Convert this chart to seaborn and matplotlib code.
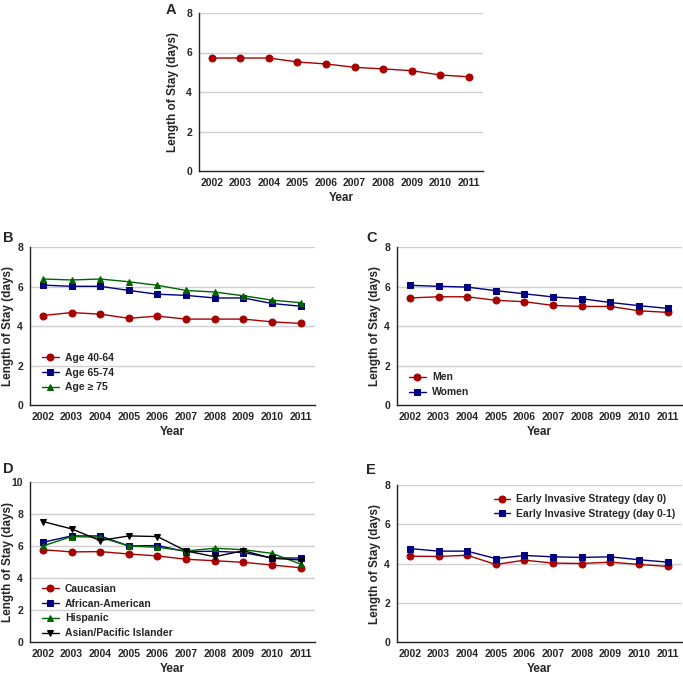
import matplotlib
matplotlib.use("Agg")
import matplotlib.pyplot as plt
import seaborn as sns
import pandas as pd

sns.set_style("white")
plt.rcParams['font.family'] = ['Liberation Sans', 'DejaVu Sans']
plt.rcParams['font.weight'] = 'bold'

years = [2002, 2003, 2004, 2005, 2006, 2007, 2008, 2009, 2010, 2011]

# Panel A: overall
overall = [5.72, 5.72, 5.72, 5.52, 5.42, 5.25, 5.17, 5.08, 4.86, 4.77]

# Panel B: age groups
age_40_64 = [4.53, 4.68, 4.60, 4.39, 4.50, 4.35, 4.35, 4.35, 4.21, 4.13]
age_65_74 = [6.07, 6.01, 6.01, 5.80, 5.61, 5.55, 5.42, 5.42, 5.14, 5.00]
age_75 = [6.38, 6.33, 6.38, 6.24, 6.06, 5.80, 5.72, 5.53, 5.31, 5.18]

# Panel C: sex
men = [5.42, 5.48, 5.48, 5.30, 5.23, 5.04, 4.99, 4.99, 4.77, 4.69]
women = [6.06, 6.01, 5.97, 5.79, 5.63, 5.47, 5.38, 5.19, 5.03, 4.89]

# Panel D: race
caucasian = [5.77, 5.63, 5.65, 5.50, 5.38, 5.17, 5.08, 4.98, 4.81, 4.64]
african_american = [6.23, 6.63, 6.63, 6.00, 6.03, 5.65, 5.67, 5.59, 5.25, 5.25]
hispanic = [6.00, 6.59, 6.55, 6.00, 5.92, 5.69, 5.86, 5.77, 5.54, 4.87]
asian_pi = [7.53, 7.07, 6.34, 6.63, 6.59, 5.69, 5.33, 5.71, 5.23, 5.13]

# Panel E: early invasive strategy
eis_day0 = [4.37, 4.36, 4.42, 3.95, 4.17, 4.02, 4.00, 4.07, 3.95, 3.85]
eis_day01 = [4.76, 4.63, 4.63, 4.25, 4.41, 4.34, 4.31, 4.34, 4.19, 4.07]

RED = "#A80000"
NAVY = "#000080"
GREEN = "#006400"
BLACK = "#000000"

W, H = 683, 674
fig = plt.figure(figsize=(W / 100, H / 100), dpi=100)


def make_ax(x0, x1, ytop, ybot):
    return fig.add_axes([x0 / W, 1 - ybot / H, (x1 - x0) / W, (ybot - ytop) / H])


def style_ax(ax, ymax, step, letter, letter_xy, ylabel_x):
    ax.set_xlim(2001.55, 2011.5)
    ax.set_ylim(0, ymax)
    ax.set_xticks(years)
    ax.set_xticklabels([str(y) for y in years], fontsize=7.5, fontweight='bold')
    yt = list(range(0, ymax + 1, step))
    ax.set_yticks(yt)
    ax.set_yticklabels([str(v) for v in yt], fontsize=7.5, fontweight='bold')
    for y in yt[1:]:
        ax.axhline(y, color="#cfcfcf", lw=1.0, zorder=0)
    for s in ["top", "right"]:
        ax.spines[s].set_visible(False)
    for s in ["left", "bottom"]:
        ax.spines[s].set_color("#222222")
        ax.spines[s].set_linewidth(1.0)
    ax.tick_params(axis='both', direction='out', length=3, width=1, color="#222222", pad=2)
    ax.set_xlabel("Year", fontsize=8.5, fontweight='bold', labelpad=3)
    ax.set_ylabel("Length of Stay (days)", fontsize=8.5, fontweight='bold')
    # place y-label center at a given pixel x
    pos = ax.get_position()
    ax.yaxis.set_label_coords((ylabel_x / W - pos.x0) / pos.width, 0.5)
    ax.yaxis.label.set_va('center')
    fig.text(letter_xy[0] / W, 1 - letter_xy[1] / H, letter, fontsize=10.5,
             fontweight='bold', ha='left', va='center')


def draw(ax, vals, color, marker, label=None, ms=5):
    df = pd.DataFrame({"Year": years, "LOS": vals})
    sns.lineplot(data=df, x="Year", y="LOS", ax=ax, color=color, marker=marker,
                 markersize=ms, markeredgecolor=color, markerfacecolor=color,
                 linewidth=1.0, label=label, legend=False, zorder=3)


def legend(ax, loc, anchor):
    leg = ax.legend(loc=loc, bbox_to_anchor=anchor, frameon=False, fontsize=7.5,
                    handlelength=1.6, handletextpad=0.6, labelspacing=0.45,
                    borderaxespad=0.2)
    for t in leg.get_texts():
        t.set_fontweight('bold')


# A
axA = make_ax(199, 483, 13, 171)
draw(axA, overall, RED, "o")
style_ax(axA, 8, 2, "A", (166, 10), 173)

# B
axB = make_ax(30, 315, 247, 405)
draw(axB, age_40_64, RED, "o", "Age 40-64")
draw(axB, age_65_74, NAVY, "s", "Age 65-74")
draw(axB, age_75, GREEN, "^", "Age \u2265 75")
style_ax(axB, 8, 2, "B", (3, 238), 8)
legend(axB, "lower left", (0.02, 0.04))

# C
axC = make_ax(397, 682, 247, 405)
draw(axC, men, RED, "o", "Men")
draw(axC, women, NAVY, "s", "Women")
style_ax(axC, 8, 2, "C", (366, 238), 375)
legend(axC, "lower left", (0.02, 0.01))

# D
axD = make_ax(30, 315, 482, 642)
draw(axD, caucasian, RED, "o", "Caucasian")
draw(axD, african_american, NAVY, "s", "African-American")
draw(axD, hispanic, GREEN, "^", "Hispanic")
draw(axD, asian_pi, BLACK, "v", "Asian/Pacific Islander")
style_ax(axD, 10, 2, "D", (3, 469), 8)
legend(axD, "lower left", (0.02, -0.015))

# E
axE = make_ax(397, 682, 485, 642)
draw(axE, eis_day0, RED, "o", "Early Invasive Strategy (day 0)")
draw(axE, eis_day01, NAVY, "s", "Early Invasive Strategy (day 0-1)")
style_ax(axE, 8, 2, "E", (366, 470), 375)
legend(axE, "upper right", (1.0, 0.98))

fig.savefig("out.png", dpi=100)
